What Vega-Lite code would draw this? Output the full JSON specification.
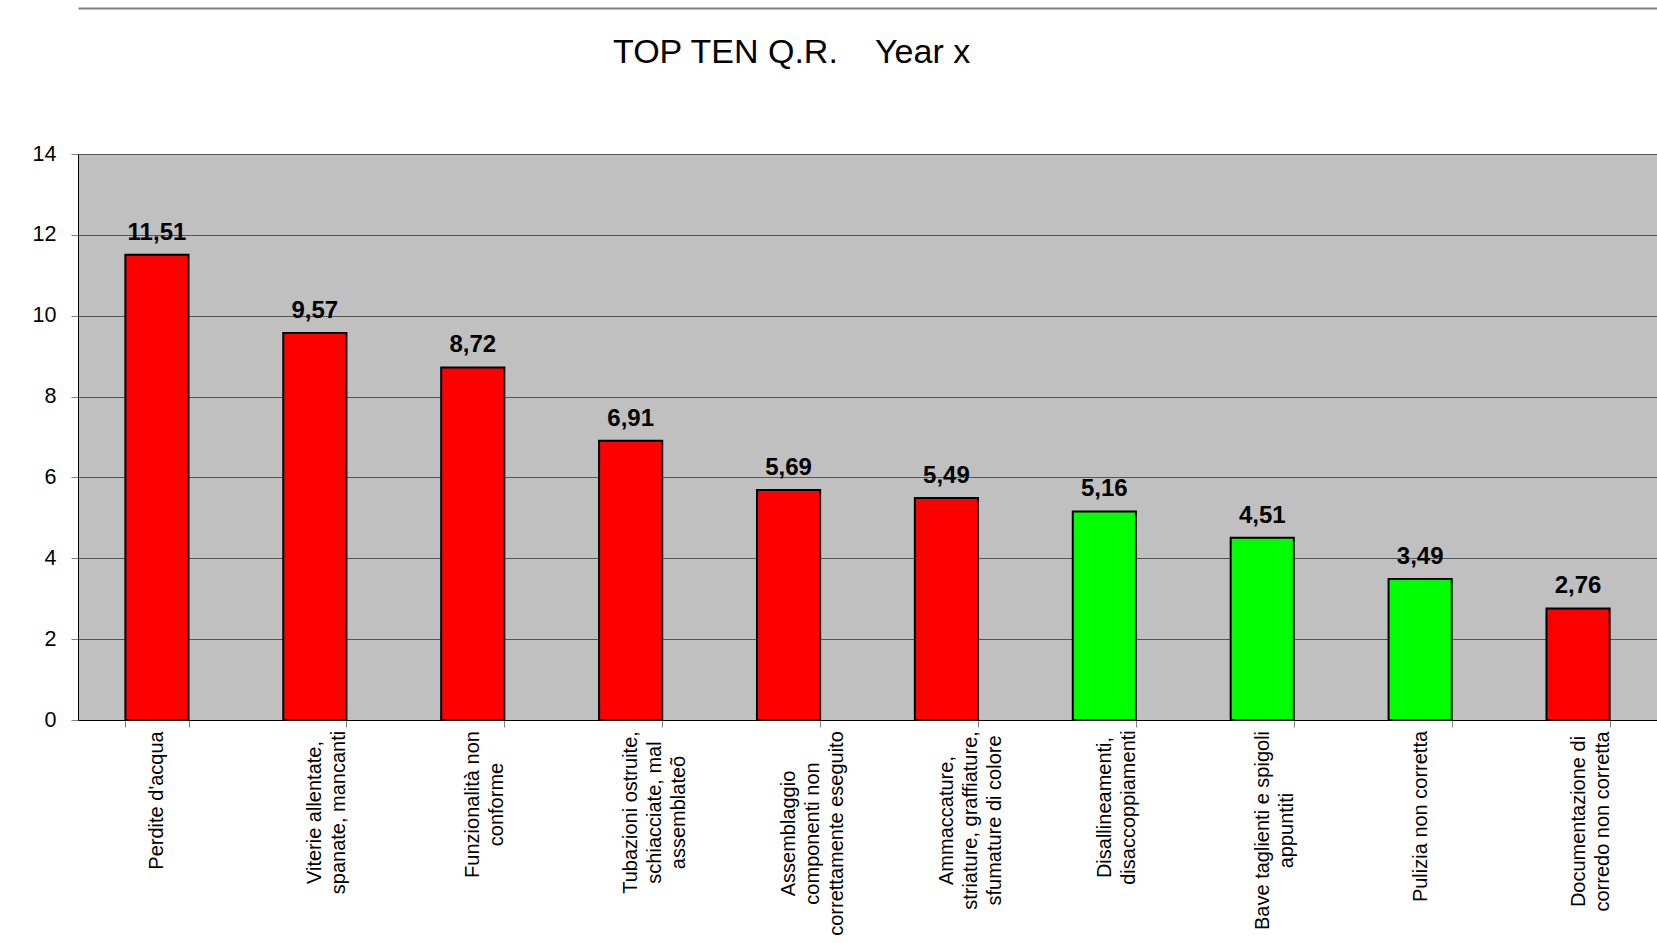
{
  "$schema": "https://vega.github.io/schema/vega-lite/v6.json",
  "width": 1579,
  "height": 566,
  "autosize": {"type": "none"},
  "padding": {"left": 78, "top": 154, "right": 0, "bottom": 223},
  "background": "white",
  "config": {
    "locale": {"number": {"decimal": ",", "thousands": ".", "grouping": [3], "currency": ["€", ""]}},
    "view": {"fill": "#c0c0c0", "stroke": "#808080", "strokeWidth": 1},
    "font": "Liberation Sans"
  },
  "title": {
    "text": "TOP TEN Q.R.\u00a0\u00a0\u00a0 Year x",
    "anchor": "start",
    "frame": "group",
    "dx": 535,
    "offset": -89,
    "font": "Liberation Sans",
    "fontSize": 34,
    "fontWeight": "normal",
    "color": "black",
    "baseline": "alphabetic"
  },
  "data": {
    "values": [
      {"Difetto": "Perdite d'acqua", "Valore": 11.51, "Stato": "aperto"},
      {"Difetto": "Viterie allentate,|spanate, mancanti", "Valore": 9.57, "Stato": "aperto"},
      {"Difetto": "Funzionalità non|conforme", "Valore": 8.72, "Stato": "aperto"},
      {"Difetto": "Tubazioni ostruite,|schiacciate, mal|assemblateõ", "Valore": 6.91, "Stato": "aperto"},
      {"Difetto": "Assemblaggio|componenti non|correttamente eseguito", "Valore": 5.69, "Stato": "aperto"},
      {"Difetto": "Ammaccature,|striature, graffiature,|sfumature di colore", "Valore": 5.49, "Stato": "aperto"},
      {"Difetto": "Disallineamenti,|disaccoppiamenti", "Valore": 5.16, "Stato": "risolto"},
      {"Difetto": "Bave taglienti e spigoli|appuntiti", "Valore": 4.51, "Stato": "risolto"},
      {"Difetto": "Pulizia non corretta", "Valore": 3.49, "Stato": "risolto"},
      {"Difetto": "Documentazione di|corredo non corretta", "Valore": 2.76, "Stato": "aperto"}
    ]
  },
  "layer": [
    {
      "mark": {"type": "bar", "stroke": "black", "strokeWidth": 2},
      "encoding": {
        "x": {
          "field": "Difetto",
          "type": "nominal",
          "sort": null,
          "scale": {"paddingInner": 0.6, "paddingOuter": 0.3},
          "axis": {
            "title": null,
            "labelExpr": "datum.value ? split(datum.value, '|') : ''",
            "labelAngle": -90,
            "labelAlign": "center",
            "labelBaseline": "middle",
            "labelFont": "Liberation Sans",
            "labelFontSize": 20,
            "labelLineHeight": 24,
            "labelColor": "black",
            "labelLimit": 400,
            "labelOverlap": false,
            "tickBand": "extent",
            "tickSize": 7,
            "tickColor": "#808080",
            "domainColor": "black",
            "domainWidth": 1,
            "grid": false,
            "labelPadding": {
              "condition": [
                {"test": "datum.value == 'Viterie allentate,|spanate, mancanti'", "value": 85},
                {"test": "datum.value == 'Funzionalità non|conforme'", "value": 77},
                {"test": "datum.value == 'Tubazioni ostruite,|schiacciate, mal|assemblateõ'", "value": 85},
                {"test": "datum.value == 'Assemblaggio|componenti non|correttamente eseguito'", "value": 106},
                {"test": "datum.value == 'Ammaccature,|striature, graffiature,|sfumature di colore'", "value": 93},
                {"test": "datum.value == 'Disallineamenti,|disaccoppiamenti'", "value": 80},
                {"test": "datum.value == 'Bave taglienti e spigoli|appuntiti'", "value": 103},
                {"test": "datum.value == 'Pulizia non corretta'", "value": 89},
                {"test": "datum.value == 'Documentazione di|corredo non corretta'", "value": 94}
              ],
              "value": 73
            }
          }
        },
        "y": {
          "field": "Valore",
          "type": "quantitative",
          "scale": {"domain": [0, 14], "nice": false},
          "axis": {
            "title": null,
            "values": [0, 2, 4, 6, 8, 10, 12, 14],
            "grid": true,
            "gridColor": "#555555",
            "gridWidth": 1,
            "tickSize": 7,
            "tickColor": "#808080",
            "domainColor": "black",
            "domainWidth": 1,
            "labelFont": "Liberation Sans",
            "labelFontSize": 21.5,
            "labelColor": "black",
            "labelPadding": 15
          }
        },
        "color": {
          "field": "Stato",
          "type": "nominal",
          "scale": {"domain": ["aperto", "risolto"], "range": ["#ff0000", "#00ff00"]},
          "legend": null
        }
      }
    },
    {
      "mark": {
        "type": "text",
        "baseline": "alphabetic",
        "dy": -15,
        "font": "Liberation Sans",
        "fontSize": 24,
        "fontWeight": "bold",
        "color": "black"
      },
      "encoding": {
        "x": {
          "field": "Difetto",
          "type": "nominal",
          "sort": null,
          "axis": {
            "orient": "top",
            "offset": 146,
            "title": null,
            "labels": false,
            "ticks": false,
            "grid": false,
            "domainColor": "#808080",
            "domainWidth": 2
          }
        },
        "y": {"field": "Valore", "type": "quantitative"},
        "text": {"field": "Valore", "type": "quantitative", "format": ".2f"}
      }
    }
  ],
  "resolve": {"axis": {"x": "independent"}}
}
